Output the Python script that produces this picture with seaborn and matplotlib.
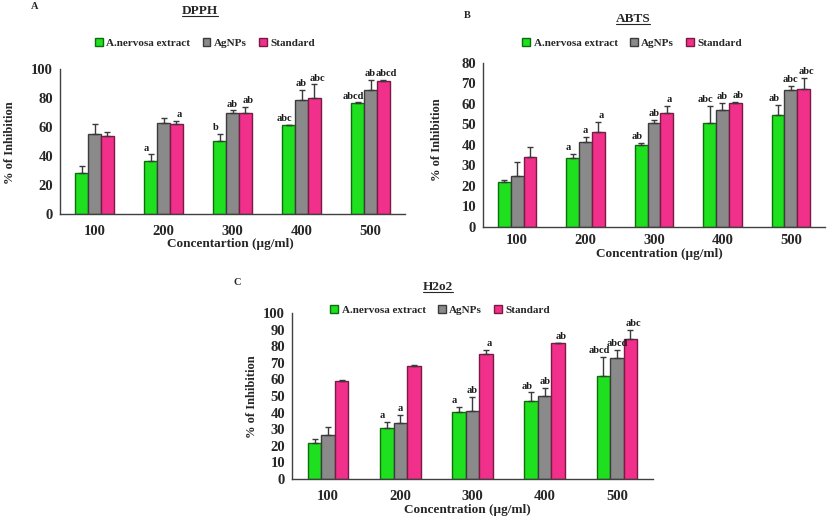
import numpy as np
import pandas as pd
import seaborn as sns
import matplotlib.pyplot as plt
from matplotlib.lines import Line2D
from matplotlib.patches import Patch

# Data
conc = ["100", "200", "300", "400", "500"]
groups = ["A.nervosa extract", "AgNPs", "Standard"]

dpph_extract = [28, 36.8, 50.1, 61.1, 76.6]
dpph_agnps = [55.2, 62.8, 69.9, 78.9, 85.7]
dpph_std = [54, 62, 69.9, 80.2, 91.5]
dpph_err_extract = [5, 4.3, 5, 0.3, 0.3]
dpph_err_agnps = [7, 3.2, 1.6, 6.6, 6.7]
dpph_err_std = [2.5, 2, 4, 9.2, 1]
dpph_lab_extract = ["", "a", "b", "abc", "abcd"]
dpph_lab_agnps = ["", "", "ab", "ab", "ab"]
dpph_lab_std = ["", "a", "ab", "abc", "abcd"]

abts_extract = [22, 33.5, 39.8, 50.6, 54.4]
abts_agnps = [24.8, 41.6, 50.8, 57.3, 66.8]
abts_std = [34, 46.4, 55.5, 60.4, 67.3]
abts_err_extract = [0.8, 2, 1.3, 8.2, 5]
abts_err_agnps = [7, 2.2, 1.5, 3, 2.1]
abts_err_std = [5, 4.7, 3.3, 0.8, 5.5]
abts_lab_extract = ["", "a", "ab", "abc", "ab"]
abts_lab_agnps = ["", "a", "ab", "ab", "abc"]
abts_lab_std = ["", "a", "a", "ab", "abc"]

h2o2_extract = [21.9, 31, 40.4, 46.9, 61.8]
h2o2_agnps = [26.2, 33.6, 41.2, 49.7, 72.6]
h2o2_std = [58.8, 68.2, 75.3, 81.7, 84.1]
h2o2_err_extract = [2, 3.4, 3, 5.2, 11.4]
h2o2_err_agnps = [5, 5.2, 8, 5.4, 5.2]
h2o2_err_std = [1, 0.4, 2.2, 0.3, 5.8]
h2o2_lab_extract = ["", "a", "a", "ab", "abcd"]
h2o2_lab_agnps = ["", "a", "ab", "ab", "abcd"]
h2o2_lab_std = ["", "", "a", "ab", "abc"]

colors = ["#1fe01f", "#8a8a8a", "#f0308a"]
edges = ["#0b6e0b", "#3c3c3c", "#7a1a44"]
# small sideways nudge of the letter labels (in category units)
lab_shift = [-0.06, 0.0, 0.04]

sns.set_theme(style="white")
plt.rcParams['font.family'] = ['Liberation Serif', 'DejaVu Serif']
plt.rcParams['font.weight'] = 'bold'

fig = plt.figure(figsize=(8.35, 5.18), dpi=100)


def panel(rect, vals, errs, labs, ymax, ystep, xpad):
    ax = fig.add_axes(rect)
    df = pd.DataFrame({
        "conc": conc * 3,
        "group": np.repeat(groups, len(conc)),
        "value": np.concatenate(vals),
    })
    sns.barplot(data=df, x="conc", y="value", hue="group", order=conc,
                hue_order=groups, palette=colors, width=0.56, saturation=1,
                errorbar=None, legend=False, ax=ax)
    # patches come in hue order: all bars of group 0, then group 1, ...
    for i, bar in enumerate(ax.patches[:15]):
        g, c = divmod(i, len(conc))
        bar.set_edgecolor(edges[g])
        bar.set_linewidth(1.0)
        x = bar.get_x() + bar.get_width() / 2
        h = bar.get_height()
        e = errs[g][c]
        ax.errorbar(x, h, yerr=[[0], [e]], fmt="none", ecolor="#3a3a3a",
                    elinewidth=1, capsize=2.5, capthick=1)
        if labs[g][c]:
            ax.text(x + lab_shift[g], h + e + ymax * 0.012, labs[g][c],
                    ha="center", va="bottom", fontsize=7.5,
                    fontweight="bold", color="#1a1a1a")
    ax.set_xlim(-0.5, 4.5)
    ax.set_ylim(0, ymax)
    ax.set_yticks(np.arange(0, ymax + 1, ystep))
    ax.set_xlabel("")
    ax.set_ylabel("")
    sns.despine(ax=ax)
    for s in ["left", "bottom"]:
        ax.spines[s].set_color("#404040")
        ax.spines[s].set_linewidth(1)
    ax.tick_params(axis="y", length=0, labelsize=10.5, pad=5)
    ax.tick_params(axis="x", length=0, labelsize=10.5, pad=xpad)
    for t in ax.get_xticklabels() + ax.get_yticklabels():
        t.set_fontweight("bold")
        t.set_color("#262626")
    return ax


axA = panel([0.0719, 0.5869, 0.4132, 0.2799],
            [dpph_extract, dpph_agnps, dpph_std],
            [dpph_err_extract, dpph_err_agnps, dpph_err_std],
            [dpph_lab_extract, dpph_lab_agnps, dpph_lab_std], 100, 20, 8)
axB = panel([0.5784, 0.5618, 0.4096, 0.3166],
            [abts_extract, abts_agnps, abts_std],
            [abts_err_extract, abts_err_agnps, abts_err_std],
            [abts_lab_extract, abts_lab_agnps, abts_lab_std], 80, 10, 5)
axC = panel([0.3497, 0.0753, 0.4323, 0.3205],
            [h2o2_extract, h2o2_agnps, h2o2_std],
            [h2o2_err_extract, h2o2_err_agnps, h2o2_err_std],
            [h2o2_lab_extract, h2o2_lab_agnps, h2o2_lab_std], 100, 10, 8)

handles = [Patch(facecolor=colors[i], edgecolor=edges[i]) for i in range(3)]
for pos in [(0.2455, 0.917), (0.757, 0.917), (0.527, 0.4015)]:
    fig.legend(handles, groups, loc="center", bbox_to_anchor=pos, ncol=3,
               frameon=False, handlelength=0.7, handleheight=0.7,
               handletextpad=0.3, columnspacing=1.1,
               prop={"weight": "bold", "size": 8})

titles = []
for txt, pos in [("DPPH", (0.2395, 0.979)), ("ABTS", (0.758, 0.963)),
                 ("H2o2", (0.5246, 0.446))]:
    titles.append(fig.text(pos[0], pos[1], txt, ha="center", va="center",
                           fontsize=9.5, fontweight="bold", color="#262626"))

for txt, pos in [("A", (0.042, 0.988)), ("B", (0.559, 0.971)),
                 ("C", (0.284, 0.454))]:
    fig.text(pos[0], pos[1], txt, ha="center", va="center", fontsize=7.5,
             fontweight="bold")

for txt, pos in [("Concentartion (µg/ml)", (0.2754, 0.529)),
                 ("Concentration (µg/ml)", (0.790, 0.510)),
                 ("Concentration (µg/ml)", (0.560, 0.0154))]:
    fig.text(pos[0], pos[1], txt, ha="center", va="center", fontsize=9.5,
             fontweight="bold", color="#262626")

for pos in [(0.012, 0.724), (0.523, 0.730), (0.302, 0.234)]:
    fig.text(pos[0], pos[1], "% of Inhibition", ha="center", va="center",
             rotation=90, fontsize=9, fontweight="bold", color="#262626")

# underline the panel titles
fig.canvas.draw()
r = fig.canvas.get_renderer()
inv = fig.transFigure.inverted()
for t in titles:
    bb = t.get_window_extent(renderer=r)
    (x0, y0), (x1, _) = inv.transform([(bb.x0, bb.y0), (bb.x1, bb.y1)])
    fig.add_artist(Line2D([x0, x1], [y0 + 0.002, y0 + 0.002],
                          transform=fig.transFigure, color="#262626", lw=0.8))

fig.savefig("out.png", dpi=100)
